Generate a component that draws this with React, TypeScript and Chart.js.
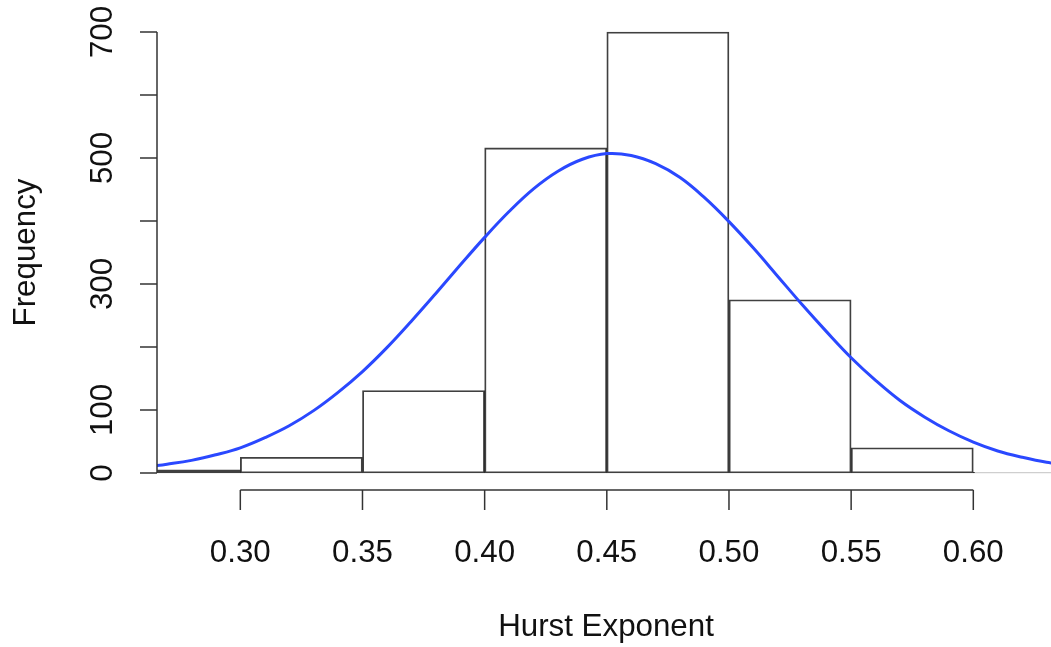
import React, { useEffect, useRef } from "react";
import { Chart, registerables } from "chart.js";

Chart.register(...registerables);

// Histogram bins (lower edges) and counts
const binStarts = [0.25, 0.3, 0.35, 0.4, 0.45, 0.5, 0.55, 0.6];
const binWidth = 0.05;
const counts = [5, 25, 131, 516, 700, 275, 40, 1];

// Fitted normal curve
const curveX = [
  0.26, 0.27, 0.28, 0.29, 0.3, 0.31, 0.32, 0.33, 0.34, 0.35, 0.36, 0.37, 0.38,
  0.39, 0.4, 0.41, 0.42, 0.43, 0.44, 0.45, 0.46, 0.47, 0.48, 0.49, 0.5, 0.51,
  0.52, 0.53, 0.54, 0.55, 0.56, 0.57, 0.58, 0.59, 0.6, 0.61, 0.62, 0.63, 0.64,
];
const curveY = [
  9, 14, 20, 29, 40, 56, 75, 99, 128, 161, 199, 241, 285, 330, 374, 415, 451,
  479, 498, 507, 504, 491, 469, 437, 399, 357, 312, 267, 224, 183, 147, 115, 89,
  67, 49, 35, 25, 17, 12,
];

// Axis ticks
const xTicks = [0.3, 0.35, 0.4, 0.45, 0.5, 0.55, 0.6];
const xTickLabels = ["0.30", "0.35", "0.40", "0.45", "0.50", "0.55", "0.60"];
const yTicks = [0, 100, 200, 300, 400, 500, 600, 700];
const yTickLabels = ["0", "100", "", "300", "", "500", "", "700"];

const xLabel = "Hurst Exponent";
const yLabel = "Frequency";

const FONT = '31.3px "Liberation Sans", Arial, sans-serif';

const rAxesPlugin = {
  id: "rAxes",
  afterDraw(chart: any) {
    const ctx = chart.ctx as CanvasRenderingContext2D;
    const xs = chart.scales.x;
    const ys = chart.scales.y;
    const area = chart.chartArea;
    ctx.save();
    ctx.strokeStyle = "#333";
    ctx.lineWidth = 1.5;
    ctx.fillStyle = "#111";
    ctx.font = FONT;

    // Y axis
    const yAxisX = area.left;
    ctx.beginPath();
    ctx.moveTo(yAxisX, ys.getPixelForValue(yTicks[0]));
    ctx.lineTo(yAxisX, ys.getPixelForValue(yTicks[yTicks.length - 1]));
    ctx.stroke();
    yTicks.forEach((v, i) => {
      const py = ys.getPixelForValue(v);
      ctx.beginPath();
      ctx.moveTo(yAxisX - 17, py);
      ctx.lineTo(yAxisX, py);
      ctx.stroke();
      const lab = yTickLabels[i];
      if (lab) {
        ctx.save();
        ctx.translate(112, py);
        ctx.rotate(-Math.PI / 2);
        ctx.textAlign = "center";
        ctx.textBaseline = "alphabetic";
        ctx.fillText(lab, 0, 0);
        ctx.restore();
      }
    });

    // X axis (offset below plot, R style)
    const xAxisY = area.bottom + 17;
    ctx.beginPath();
    ctx.moveTo(xs.getPixelForValue(xTicks[0]), xAxisY);
    ctx.lineTo(xs.getPixelForValue(xTicks[xTicks.length - 1]), xAxisY);
    ctx.stroke();
    xTicks.forEach((v, i) => {
      const px = xs.getPixelForValue(v);
      ctx.beginPath();
      ctx.moveTo(px, xAxisY);
      ctx.lineTo(px, xAxisY + 20);
      ctx.stroke();
      ctx.textAlign = "center";
      ctx.textBaseline = "alphabetic";
      ctx.fillText(xTickLabels[i], px, 562);
    });

    // Axis titles
    ctx.textAlign = "center";
    ctx.textBaseline = "alphabetic";
    ctx.fillText(xLabel, (area.left + area.right) / 2 + 2, 636);
    ctx.save();
    ctx.translate(35, (area.top + area.bottom) / 2);
    ctx.rotate(-Math.PI / 2);
    ctx.fillText(yLabel, 0, 0);
    ctx.restore();

    ctx.restore();
  },
};

export default function App() {
  const ref = useRef<HTMLCanvasElement>(null);

  useEffect(() => {
    document.body.style.margin = "0";
    const canvas = ref.current;
    if (!canvas) return;
    const barData = binStarts.map((s, i) => ({ x: s + binWidth / 2, y: counts[i] }));
    const lineData = curveX.map((x, i) => ({ x, y: curveY[i] }));
    const chart = new Chart(canvas, {
      type: "bar",
      data: {
        datasets: [
          {
            type: "line",
            data: lineData,
            borderColor: "#2a48ff",
            borderWidth: 3,
            pointRadius: 0,
            tension: 0.4,
            fill: false,
            order: 0,
            clip: { left: 0, right: 0, top: 5, bottom: 5 },
          } as any,
          {
            type: "bar",
            data: barData,
            backgroundColor: "rgba(255,255,255,0)",
            borderColor: "rgba(0,0,0,0.75)",
            borderWidth: 1.2,
            borderSkipped: false,
            barPercentage: 1,
            categoryPercentage: 1,
            order: 1,
            clip: { left: 0, right: 0, top: 3, bottom: 3 },
          } as any,
        ],
      },
      options: {
        responsive: false,
        animation: false,
        devicePixelRatio: 1,
        layout: { padding: { left: 157, right: 0, top: 32, bottom: 174 } },
        plugins: {
          legend: { display: false },
          tooltip: { enabled: false },
        },
        scales: {
          x: {
            type: "linear",
            min: 0.2659,
            max: 0.6318,
            display: false,
            offset: false,
            afterBuildTicks: (scale: any) => {
              scale.ticks = xTicks.map((v) => ({ value: v }));
            },
          },
          y: { type: "linear", min: 0, max: 700, display: false },
        },
      },
      plugins: [rAxesPlugin],
    });
    return () => chart.destroy();
  }, []);

  return (
    <canvas ref={ref} width={1051} height={647} style={{ display: "block", background: "#fff" }} />
  );
}
